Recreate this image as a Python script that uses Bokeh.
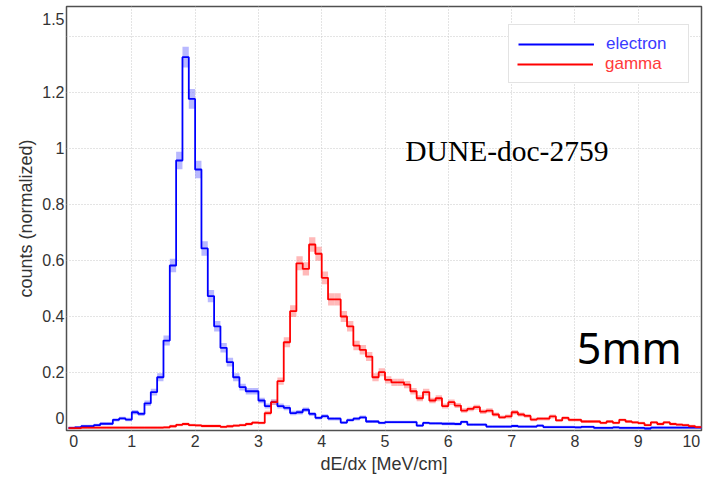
import numpy as np
from bokeh.plotting import figure
from bokeh.models import Range1d, FixedTicker, Legend, LegendItem, Label
from bokeh.embed import file_html
from bokeh.resources import INLINE

# histogram bins: 100 bins of 0.1 MeV/cm from 0 to 10
bin_edges = [round(0.1 * i, 1) for i in range(101)]

electron = [0.002, 0.004, 0.008, 0.008, 0.012, 0.017, 0.017, 0.031, 0.036, 0.032,
            0.058, 0.052, 0.090, 0.130, 0.183, 0.314, 0.582, 0.957, 1.326, 1.177,
            0.925, 0.643, 0.473, 0.365, 0.288, 0.237, 0.183, 0.148, 0.133, 0.133,
            0.100, 0.080, 0.094, 0.080, 0.074, 0.055, 0.058, 0.067, 0.052, 0.038,
            0.044, 0.035, 0.035, 0.021, 0.030, 0.035, 0.040, 0.025, 0.025, 0.020,
            0.023, 0.023, 0.023, 0.023, 0.023, 0.010, 0.020, 0.018, 0.018, 0.017,
            0.017, 0.016, 0.024, 0.014, 0.014, 0.014, 0.007, 0.007, 0.007, 0.007,
            0.009, 0.007, 0.007, 0.007, 0.010, 0.005, 0.005, 0.005, 0.005, 0.005,
            0.004, 0.006, 0.006, 0.002, 0.002, 0.002, 0.004, 0.002, 0.002, 0.002,
            0.002, 0.000, 0.003, 0.003, 0.003, 0.003, 0.003, 0.003, 0.003, 0.003]

electron_err = [0.005, 0.005, 0.005, 0.005, 0.005, 0.005, 0.005, 0.006, 0.006, 0.006,
                0.008, 0.007, 0.010, 0.012, 0.014, 0.018, 0.024, 0.031, 0.037, 0.035,
                0.031, 0.026, 0.022, 0.019, 0.017, 0.016, 0.014, 0.012, 0.012, 0.012,
                0.010, 0.009, 0.010, 0.009, 0.009, 0.008, 0.008, 0.008, 0.007, 0.006,
                0.007, 0.006, 0.006, 0.005, 0.006, 0.006, 0.006, 0.005, 0.005, 0.005,
                0.005, 0.005, 0.005, 0.005, 0.005, 0.005, 0.005, 0.005, 0.005, 0.005,
                0.005, 0.005, 0.005, 0.005, 0.005, 0.005, 0.005, 0.005, 0.005, 0.005,
                0.005, 0.005, 0.005, 0.005, 0.005, 0.005, 0.005, 0.005, 0.005, 0.005,
                0.005, 0.005, 0.005, 0.005, 0.005, 0.005, 0.005, 0.005, 0.005, 0.005,
                0.005, 0.005, 0.005, 0.005, 0.005, 0.005, 0.005, 0.005, 0.005, 0.005]

gamma = [0.001, 0.001, 0.003, 0.003, 0.003, 0.003, 0.003, 0.003, 0.003, 0.003,
         0.003, 0.003, 0.003, 0.003, 0.003, 0.004, 0.008, 0.013, 0.016, 0.012,
         0.011, 0.009, 0.009, 0.009, 0.006, 0.008, 0.010, 0.012, 0.016, 0.021,
         0.020, 0.055, 0.094, 0.169, 0.308, 0.419, 0.590, 0.570, 0.657, 0.624,
         0.538, 0.461, 0.461, 0.400, 0.365, 0.296, 0.281, 0.257, 0.183, 0.201,
         0.174, 0.165, 0.165, 0.157, 0.133, 0.108, 0.130, 0.100, 0.108, 0.080,
         0.094, 0.082, 0.064, 0.070, 0.076, 0.060, 0.064, 0.050, 0.040, 0.043,
         0.058, 0.050, 0.045, 0.032, 0.035, 0.035, 0.043, 0.029, 0.038, 0.031,
         0.031, 0.025, 0.025, 0.025, 0.020, 0.025, 0.020, 0.031, 0.025, 0.022,
         0.019, 0.012, 0.022, 0.016, 0.022, 0.016, 0.014, 0.012, 0.008, 0.005]

gamma_err = [0.005, 0.005, 0.005, 0.005, 0.005, 0.005, 0.005, 0.005, 0.005, 0.005,
             0.005, 0.005, 0.005, 0.005, 0.005, 0.005, 0.005, 0.005, 0.005, 0.005,
             0.005, 0.005, 0.005, 0.005, 0.005, 0.005, 0.005, 0.005, 0.005, 0.005,
             0.005, 0.008, 0.010, 0.013, 0.018, 0.021, 0.025, 0.024, 0.026, 0.025,
             0.023, 0.022, 0.022, 0.020, 0.019, 0.017, 0.017, 0.016, 0.014, 0.014,
             0.013, 0.013, 0.013, 0.013, 0.012, 0.011, 0.012, 0.010, 0.011, 0.009,
             0.010, 0.009, 0.008, 0.008, 0.009, 0.008, 0.008, 0.007, 0.006, 0.007,
             0.008, 0.007, 0.007, 0.006, 0.006, 0.006, 0.007, 0.005, 0.006, 0.006,
             0.006, 0.005, 0.005, 0.005, 0.005, 0.005, 0.005, 0.005, 0.005, 0.005,
             0.005, 0.005, 0.005, 0.005, 0.005, 0.005, 0.005, 0.005, 0.005, 0.005]

x_tick_pos = [0.08, 1, 2, 3, 4, 5, 6, 7, 8, 9, 9.84]
x_tick_labels = ["0", "1", "2", "3", "4", "5", "6", "7", "8", "9", "10"]
x_grid = [1, 2, 3, 4, 5, 6, 7, 8, 9, 10]
y_tick_pos = [0.036, 0.2, 0.4, 0.6, 0.8, 1.0, 1.2, 1.461]
y_tick_labels = ["0", "0.2", "0.4", "0.6", "0.8", "1", "1.2", "1.5"]
y_grid = [0.2, 0.4, 0.6, 0.8, 1.0, 1.2, 1.4]

edges = np.array(bin_edges)
e = np.array(electron)
ee = np.array(electron_err)
g = np.array(gamma)
ge = np.array(gamma_err)

p = figure(width=709, height=476, output_backend="svg", toolbar_location=None,
           x_range=Range1d(-0.032, 10.0), y_range=Range1d(-0.00714, 1.507),
           min_border_left=66, min_border_right=8, min_border_top=6, min_border_bottom=46)

p.background_fill_color = "white"
p.border_fill_color = "white"
p.outline_line_color = "#505050"
p.outline_line_width = 1.5

# error boxes
p.quad(left=edges[:-1], right=edges[1:], bottom=e - ee, top=e + ee,
       fill_color="#8080ff", fill_alpha=0.55, line_color=None)
p.quad(left=edges[:-1], right=edges[1:], bottom=g - ge, top=g + ge,
       fill_color="#ff8080", fill_alpha=0.55, line_color=None)

# step histograms
e_step = p.step(x=edges, y=np.append(e, e[-1]), mode="after", line_color="#0000ff", line_width=1.8)
g_step = p.step(x=edges, y=np.append(g, g[-1]), mode="after", line_color="#ff0000", line_width=1.8)
# invisible stand-in so the shared legend box has an empty second row
blank = p.line(x=[], y=[], line_alpha=0)

# axes
for ax in (p.xaxis[0], p.yaxis[0]):
    ax.axis_line_color = None
    ax.major_tick_line_color = None
    ax.minor_tick_line_color = None
    ax.major_tick_out = 0
    ax.major_tick_in = 0
    ax.minor_tick_out = 0
    ax.minor_tick_in = 0
    ax.major_label_text_font = "Liberation Sans"
    ax.major_label_text_font_size = "16px"
    ax.major_label_text_color = "#333333"
    ax.axis_label_text_font = "Liberation Sans"
    ax.axis_label_text_font_size = "18px"
    ax.axis_label_text_font_style = "normal"
    ax.axis_label_text_color = "#333333"

p.xaxis.ticker = FixedTicker(ticks=x_tick_pos)
p.xaxis.major_label_overrides = dict(zip(x_tick_pos, x_tick_labels))
p.xaxis.axis_label = "dE/dx [MeV/cm]"
p.xaxis.major_label_standoff = 4
p.xaxis.axis_label_standoff = 4

p.yaxis.ticker = FixedTicker(ticks=y_tick_pos)
p.yaxis.major_label_overrides = dict(zip(y_tick_pos, y_tick_labels))
p.yaxis.axis_label = "counts (normalized)"
p.yaxis.major_label_standoff = 2
p.yaxis.axis_label_standoff = 3

p.xgrid.ticker = FixedTicker(ticks=x_grid)
p.ygrid.ticker = FixedTicker(ticks=y_grid)
for gr in (p.xgrid[0], p.ygrid[0]):
    gr.grid_line_color = "#c8c8c8"
    gr.grid_line_dash = "1 2"
    gr.grid_line_width = 1

# legend: box with both rows, labels coloured per series
legA = Legend(items=[LegendItem(label="electron", renderers=[e_step]),
                     LegendItem(label=" ", renderers=[blank])],
              location=(442, 347), padding=9, spacing=3, glyph_width=76, glyph_height=16,
              label_height=16, label_width=73, label_standoff=12,
              label_text_font="Liberation Sans", label_text_font_size="17px",
              label_text_color="#3a3aff", border_line_color="#c8c8c8", border_line_width=1,
              background_fill_color="white", background_fill_alpha=1.0, margin=0)
legB = Legend(items=[LegendItem(label="gamma", renderers=[g_step])],
              location=(442, 347), padding=9, spacing=3, glyph_width=76, glyph_height=16,
              label_height=16, label_width=73, label_standoff=12,
              label_text_font="Liberation Sans", label_text_font_size="17px",
              label_text_color="#ff3a3a", border_line_alpha=0, background_fill_alpha=0, margin=0)
p.add_layout(legA)
p.add_layout(legB)

p.add_layout(Label(x=5.32, y=0.99, text="DUNE-doc-2759", text_font="Liberation Serif",
                   text_font_size="29.5px", text_color="black", text_baseline="alphabetic"))
p.add_layout(Label(x=8.03, y=0.289, text="5mm", text_font="Noto Sans",
                   text_font_size="43px", text_color="black", text_baseline="alphabetic"))

open("out.html", "w").write(file_html(p, INLINE))
